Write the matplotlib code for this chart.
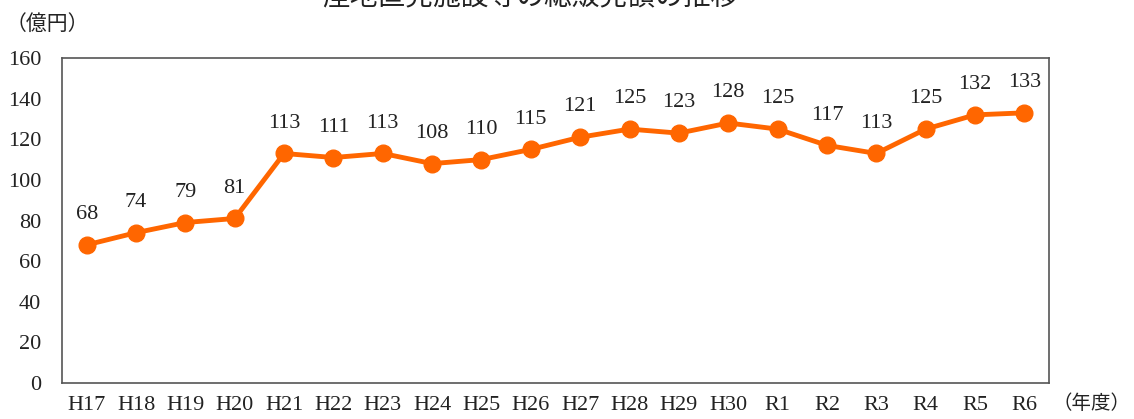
import matplotlib.pyplot as plt

years = ['H17', 'H18', 'H19', 'H20', 'H21', 'H22', 'H23', 'H24', 'H25', 'H26',
         'H27', 'H28', 'H29', 'H30', 'R1', 'R2', 'R3', 'R4', 'R5', 'R6']
sales = [68, 74, 79, 81, 113, 111, 113, 108, 110, 115,
         121, 125, 123, 128, 125, 117, 113, 125, 132, 133]

plt.rcParams['font.family'] = ['Liberation Serif', 'Noto Sans CJK JP', 'DejaVu Sans']

fig = plt.figure(figsize=(11.34, 4.19), dpi=100, facecolor='white')
ax = fig.add_axes([62 / 1134, 1 - 383 / 419, 987 / 1134, 325 / 419])

x = list(range(len(years)))
ax.plot(x, sales, color='#FF6600', linewidth=3.5, marker='o', markersize=12)
for i, v in enumerate(sales):
    ax.annotate(str(v), (i, v), xytext=(0, 15), textcoords='offset points',
                ha='center', va='bottom', fontsize=16, color='#222222')

ax.set_xlim(-0.5, len(years) - 0.5)
ax.set_ylim(0, 160)
ax.set_yticks(range(0, 161, 20))
ax.set_xticks(x)
ax.set_xticklabels(years)
ax.tick_params(length=0, labelsize=16, colors='#222222')
ax.tick_params(axis='x', pad=9)
ax.tick_params(axis='y', pad=15)
for s in ax.spines.values():
    s.set_color('#555555')
    s.set_linewidth(1.2)

fig.text(6 / 1134, 1 - 25 / 419, '（億円）', fontsize=15, va='center', ha='left', color='#222222')
fig.text(1130 / 1134, 1 - 404 / 419, '（年度）', fontsize=14, va='center', ha='right', color='#222222')
fig.text(530 / 1134, 1 + 2 / 419, '産地直売施設等の総販売額の推移', fontsize=20,
         ha='center', va='center', color='#222222')

fig.savefig('out.png', dpi=100)
